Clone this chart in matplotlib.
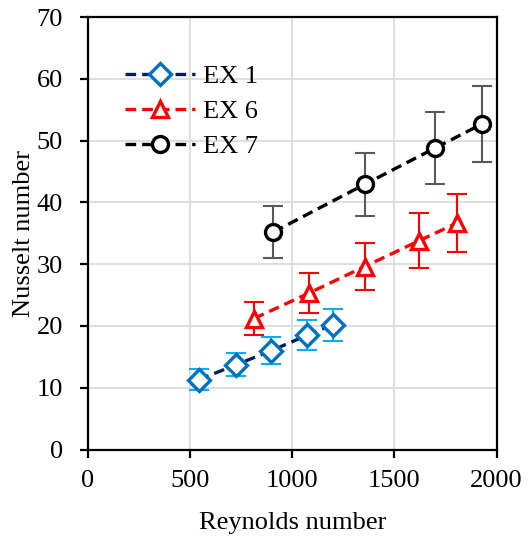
import numpy as np
import matplotlib
matplotlib.use('Agg')
import matplotlib.pyplot as plt

plt.rcParams['font.family'] = ['Liberation Serif', 'DejaVu Serif']

# data
re1 = [542, 724, 898, 1073, 1198]
nu1 = [11.3, 13.7, 16.0, 18.5, 20.2]
err1 = [1.7, 1.85, 2.15, 2.4, 2.6]

re6 = [813, 1081, 1354, 1622, 1809]
nu6 = [21.2, 25.3, 29.6, 33.8, 36.7]
err6 = [2.7, 3.2, 3.8, 4.4, 4.7]

re7 = [908, 1354, 1700, 1930]
nu7 = [35.2, 42.9, 48.8, 52.7]
err7 = [4.2, 5.1, 5.8, 6.2]

fig = plt.figure(figsize=(5.31, 5.38), dpi=100)
ax = fig.add_axes([88/531., 1-449.5/538., (496.5-88)/531., (449.5-17)/538.])

lw = 2.4
dash = (0, (3.2, 1.8))
mew = 2.4
fs = 19

ax.errorbar(re1, nu1, yerr=err1, fmt='none', ecolor='#00B0F0', elinewidth=1.5,
            capsize=7, capthick=1.5, zorder=3)
ax.plot(re1, nu1, color='#002060', lw=lw, linestyle=dash, marker='D', ms=11,
        mfc='white', mec='#0070C0', mew=mew, label='EX 1', zorder=4)

ax.errorbar(re6, nu6, yerr=err6, fmt='none', ecolor='#FF0000', elinewidth=1.5,
            capsize=7, capthick=1.5, zorder=3)
ax.plot(re6, nu6, color='#FF0000', lw=lw, linestyle=dash, marker='^', ms=11,
        mfc='white', mec='#FF0000', mew=mew, label='EX 6', zorder=4)

ax.errorbar(re7, nu7, yerr=err7, fmt='none', ecolor='#595959', elinewidth=1.5,
            capsize=7, capthick=1.5, zorder=3)
ax.plot(re7, nu7, color='black', lw=lw, linestyle=dash, marker='o', ms=11.5,
        mfc='white', mec='black', mew=mew, label='EX 7', zorder=4)

ax.set_xlim(0, 2000)
ax.set_ylim(0, 70)
ax.set_xticks([0, 500, 1000, 1500, 2000])
ax.set_yticks(range(0, 71, 10))
ax.grid(True, color='#D9D9D9', lw=1.2)
ax.set_axisbelow(True)
for s in ax.spines.values():
    s.set_linewidth(1.6)
ax.tick_params(direction='out', length=6, width=1.6, labelsize=fs)
ax.tick_params(axis='x', pad=9)
ax.tick_params(axis='y', pad=12)

ax.set_xlabel('Reynolds number', fontsize=fs, labelpad=14)
ax.set_ylabel('Nusselt number', fontsize=fs, labelpad=1)

leg = ax.legend(loc='upper left', bbox_to_anchor=(0.065, 0.915), frameon=False,
                fontsize=fs, handlelength=2.65, handletextpad=0.3, labelspacing=0.45,
                borderaxespad=0.0)

plt.savefig('out.png', dpi=100)
